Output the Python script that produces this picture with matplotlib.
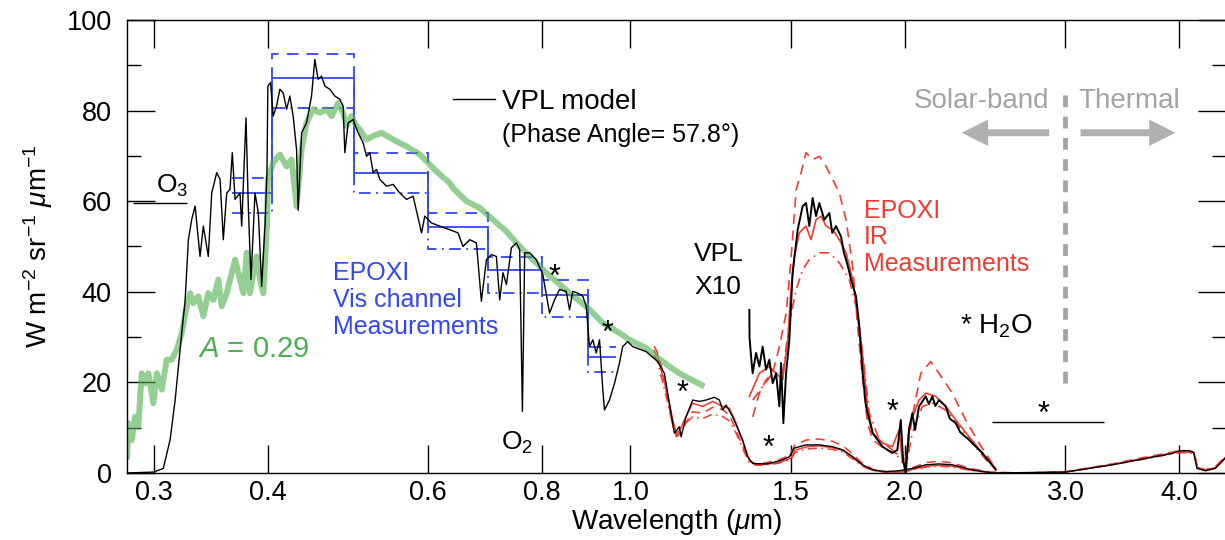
import matplotlib
matplotlib.use('Agg')
import matplotlib.pyplot as plt
from matplotlib.ticker import FixedLocator, FixedFormatter, NullLocator, MultipleLocator
from matplotlib.patches import FancyArrowPatch
from matplotlib.lines import Line2D

plt.rcParams['font.family'] = ['Liberation Sans', 'DejaVu Sans']
plt.rcParams['mathtext.fontset'] = 'custom'
plt.rcParams['mathtext.rm'] = 'Liberation Sans'
plt.rcParams['mathtext.it'] = 'Liberation Sans:italic'
plt.rcParams['mathtext.bf'] = 'Liberation Sans:bold'

# VPL model, original scale
vpl_wl = [0.2805, 0.3000, 0.3074, 0.3127, 0.3167, 0.3221, 0.3248, 0.3275, 0.3303, 0.3331,
          0.3373, 0.3401, 0.3444, 0.3474, 0.3518, 0.3548, 0.3577, 0.3608, 0.3638, 0.3659,
          0.3685, 0.3731, 0.3747, 0.3788, 0.3810, 0.3836, 0.3875, 0.3908, 0.3941, 0.3974,
          0.3994, 0.4003, 0.4030, 0.4057, 0.4092, 0.4126, 0.4161, 0.4197, 0.4232, 0.4267,
          0.4304, 0.4321, 0.4359, 0.4414, 0.4470, 0.4507, 0.4545, 0.4584, 0.4623, 0.4681,
          0.4741, 0.4801, 0.4841, 0.4862, 0.4903, 0.4965, 0.5028, 0.5092, 0.5136, 0.5179,
          0.5222, 0.5267, 0.5311, 0.5402, 0.5493, 0.5586, 0.5682, 0.5777, 0.5901, 0.5950,
          0.6050, 0.6178, 0.6336, 0.6470, 0.6553, 0.6665, 0.6778, 0.6864, 0.6952, 0.7040,
          0.7129, 0.7189, 0.7249, 0.7312, 0.7404, 0.7499, 0.7561, 0.7613, 0.7657, 0.7755,
          0.7884, 0.8016, 0.8153, 0.8256, 0.8361, 0.8504, 0.8575, 0.8647, 0.8757, 0.8868,
          0.8944, 0.9019, 0.9095, 0.9173, 0.9250, 0.9327, 0.9367, 0.9486, 0.9607, 0.9729,
          0.9807, 0.9932, 1.0058, 1.0404, 1.0714, 1.0896, 1.1035, 1.1175, 1.1317, 1.1366,
          1.1510, 1.1704, 1.1903, 1.2106, 1.2363, 1.2520, 1.2624, 1.2733, 1.2947, 1.3278,
          1.3447, 1.3618, 1.4086, 1.4323, 1.4689, 1.4940, 1.5129, 1.5583, 1.6115, 1.6665,
          1.7092, 1.7529, 1.7977, 1.8437, 1.9071, 1.971, 2.038, 2.108, 2.180, 2.255,
          2.372, 2.494, 3.000, 3.375, 3.672, 3.926, 4.000, 4.095, 4.147, 4.182,
          4.272, 4.380, 4.454, 4.500]
vpl_rad = [0.0, 0.2, 1.0, 7.3, 16.0, 31.0, 38.0, 51.5, 56.0, 58.9,
           47.8, 54.5, 47.8, 61.8, 66.3, 64.8, 51.5, 61.8, 62.6, 70.7,
           60.4, 61.8, 54.5, 78.4, 58.9, 42.7, 61.8, 57.4, 41.2, 54.5,
           66.3, 85.4, 86.2, 78.8, 81.0, 84.7, 83.9, 80.3, 83.2, 78.8,
           71.4, 58.0, 75.1, 77.3, 83.2, 91.3, 86.9, 87.6, 85.4, 84.7,
           83.2, 82.5, 81.0, 70.7, 77.3, 78.0, 75.1, 72.9, 69.9, 70.7,
           66.3, 67.0, 64.8, 63.3, 63.7, 61.8, 60.4, 61.1, 53.0, 56.7,
           55.2, 54.5, 53.7, 53.0, 50.0, 51.5, 50.8, 37.9, 47.1, 48.2,
           47.8, 38.2, 44.2, 41.6, 49.7, 50.8, 49.3, 13.6, 48.6, 48.6,
           47.1, 43.8, 35.3, 38.2, 40.5, 40.1, 36.0, 40.1, 39.7, 39.0,
           36.8, 27.9, 29.4, 26.5, 29.4, 18.4, 13.9, 16.1, 19.8, 24.3,
           27.9, 29.0, 27.9, 26.8, 24.6, 22.0, 15.4, 8.8, 10.2, 8.0,
           12.4, 16.1, 15.8, 16.1, 16.7, 16.1, 13.9, 15.0, 12.4, 7.3,
           3.6, 2.1, 2.0, 2.3, 2.9, 3.6, 5.5, 6.2, 6.2, 5.8,
           5.1, 3.6, 1.8, 0.7, 0.3, 0.5, 1.0, 1.8, 2.0, 1.8,
           0.7, 0.0, 0.2, 1.8, 3.2, 4.3, 4.9, 4.9, 4.6, 1.0,
           0.5, 1.0, 2.5, 3.5]

# VPL model x10
vpl10_wl = [1.3505, 1.3510, 1.3563, 1.3618, 1.3735, 1.385, 1.3966, 1.4086, 1.4204, 1.4323,
            1.4447, 1.4567, 1.463, 1.4715, 1.4816, 1.494, 1.5064, 1.5257, 1.545, 1.5583,
            1.5712, 1.5845, 1.5981, 1.6115, 1.632, 1.6527, 1.665, 1.6809, 1.7022, 1.715,
            1.7238, 1.735, 1.7457, 1.7679, 1.7827, 1.7977, 1.8129, 1.8437, 1.8906, 1.9379,
            1.9625, 1.9794, 1.9909, 2.0045, 2.0213, 2.038, 2.0522, 2.073, 2.108, 2.125,
            2.1438, 2.160, 2.180, 2.2178, 2.240, 2.2742, 2.300, 2.352, 2.4322, 2.516]
vpl10_rad = [36.0, 30.0, 25.7, 22.0, 26.5, 23.5, 27.9, 22.8, 25.0, 19.8,
             22.0, 14.7, 24.3, 11.0, 22.0, 29.4, 44.2, 53.7, 58.9, 59.6,
             54.5, 60.7, 56.7, 59.6, 55.9, 57.4, 53.0, 54.5, 52.2, 48.5,
             47.1, 45.0, 42.7, 39.0, 32.3, 22.0, 14.7, 8.8, 5.8, 4.4,
             5.1, 11.7, 2.9, 0.0, 9.5, 13.2, 9.5, 14.7, 16.9, 15.2,
             16.9, 14.8, 16.1, 14.7, 12.0, 11.0, 9.0, 7.3, 4.4, 0.7]

# Lambert albedo A = 0.29
alb_wl = [0.2805, 0.2814, 0.2839, 0.2862, 0.2886, 0.2911, 0.2936, 0.2960, 0.2998, 0.3024,
          0.3062, 0.3101, 0.3140, 0.3180, 0.3221, 0.3261, 0.3289, 0.3316, 0.3358, 0.3401,
          0.3444, 0.3488, 0.3532, 0.3563, 0.3608, 0.3654, 0.3685, 0.3715, 0.3763, 0.3795,
          0.3827, 0.3859, 0.3892, 0.3925, 0.3957, 0.3994, 0.4003, 0.4057, 0.4126, 0.4197,
          0.4250, 0.4304, 0.4359, 0.4414, 0.4488, 0.4565, 0.4643, 0.4702, 0.4781, 0.4841,
          0.4883, 0.4945, 0.5008, 0.5050, 0.5136, 0.5222, 0.5334, 0.5493, 0.5682, 0.5876,
          0.6024, 0.6127, 0.6336, 0.6389, 0.6609, 0.6835, 0.7068, 0.7312, 0.7561, 0.7820,
          0.8085, 0.8292, 0.8575, 0.8944, 0.9327, 0.9729, 0.9975, 1.0404, 1.0670, 1.1035,
          1.1317, 1.2054]
alb_rad = [3.0, 11.0, 7.3, 12.4, 10.2, 22.0, 19.8, 22.0, 15.4, 22.0,
           18.4, 25.0, 25.0, 27.2, 30.9, 36.8, 39.7, 37.5, 39.0, 34.6,
           39.7, 38.2, 42.7, 36.8, 39.7, 44.2, 47.1, 44.2, 39.7, 48.6,
           39.7, 44.2, 47.8, 42.7, 39.7, 54.5, 64.8, 68.5, 70.3, 67.7,
           69.2, 58.9, 71.4, 77.3, 80.3, 79.5, 80.3, 78.8, 81.7, 79.5,
           76.6, 78.8, 76.6, 75.8, 73.6, 74.4, 75.1, 73.6, 72.1, 70.3,
           68.1, 66.6, 64.0, 62.9, 60.0, 58.5, 55.9, 53.3, 50.0, 47.1,
           44.2, 42.3, 39.7, 36.8, 33.1, 30.9, 29.4, 27.6, 25.7, 23.5,
           22.0, 19.1]

# EPOXI Vis channel (7 filters)
vis_edges = [0.366, 0.404, 0.498, 0.600, 0.698, 0.800, 0.899, 0.965]
vis_mid = [61.7, 87.2, 66.3, 54.2, 44.7, 39.4, 25.6]
vis_high = [65.1, 92.6, 70.6, 57.5, 47.7, 42.7, 27.9]
vis_low = [57.5, 80.6, 61.8, 49.5, 39.7, 34.4, 22.4]

# EPOXI IR, original scale
ir_wl = [1.062, 1.071, 1.085, 1.099, 1.113, 1.123, 1.133, 1.150, 1.170, 1.200,
         1.231, 1.262, 1.284, 1.306, 1.334, 1.350, 1.374, 1.410, 1.450, 1.480,
         1.500, 1.515, 1.560, 1.610, 1.665, 1.710, 1.750, 1.800, 1.845, 1.900,
         1.970, 2.000, 2.040, 2.110, 2.180, 2.255, 2.370, 2.490, 2.700, 3.000,
         3.375, 3.670, 3.925, 4.000, 4.095, 4.150, 4.185, 4.270, 4.380, 4.500]
ir_solid = [27.0, 25.7, 21.5, 17.0, 11.7, 8.8, 9.5, 12.4, 15.4, 14.7,
            15.8, 14.7, 14.3, 11.0, 5.8, 2.9, 1.8, 1.9, 2.3, 2.8,
            3.3, 5.0, 5.8, 6.0, 5.6, 5.0, 3.5, 1.6, 0.6, 0.2,
            0.2, 0.4, 0.8, 1.5, 1.7, 1.5, 0.6, 0.1, 0.0, 0.2,
            1.9, 3.3, 4.4, 4.7, 4.6, 4.5, 1.3, 0.6, 1.2, 3.6]
ir_dash = [28.0, 26.5, 22.5, 16.0, 10.5, 8.0, 8.5, 11.0, 13.5, 13.2,
           14.5, 14.0, 12.8, 9.5, 5.0, 2.6, 1.9, 2.3, 2.8, 3.5,
           4.4, 6.2, 7.3, 7.5, 7.0, 6.0, 4.3, 2.0, 0.8, 0.3,
           0.3, 0.6, 1.2, 2.3, 2.6, 2.2, 0.9, 0.2, 0.0, 0.3,
           2.0, 3.5, 4.6, 5.0, 4.9, 4.7, 1.5, 0.7, 1.4, 3.8]
ir_dashdot = [26.0, 24.5, 20.0, 15.5, 10.5, 8.3, 9.0, 11.0, 12.4, 12.0,
              13.0, 12.5, 11.5, 8.8, 4.5, 2.3, 1.7, 1.8, 2.1, 2.6,
              3.0, 4.5, 5.3, 5.5, 5.2, 4.6, 3.2, 1.4, 0.5, 0.2,
              0.2, 0.3, 0.7, 1.3, 1.5, 1.3, 0.5, 0.1, 0.0, 0.2,
              1.8, 3.1, 4.2, 4.5, 4.4, 4.3, 1.2, 0.5, 1.1, 3.4]

# EPOXI IR x10
ir10_solid_wl = [1.3505, 1.385, 1.420, 1.445, 1.469, 1.488, 1.500, 1.513, 1.532, 1.558,
                 1.578, 1.598, 1.619, 1.639, 1.667, 1.695, 1.724, 1.753, 1.775, 1.798,
                 1.820, 1.844, 1.891, 1.938, 1.971, 1.987, 2.005, 2.021, 2.047, 2.073,
                 2.108, 2.162, 2.218, 2.274, 2.352, 2.432, 2.516]
ir10_solid = [16.9, 22.0, 23.5, 22.0, 20.6, 29.4, 40.5, 47.8, 53.0, 54.5,
              51.5, 55.9, 56.7, 54.5, 53.7, 51.5, 48.6, 42.7, 35.3, 25.7,
              14.7, 8.8, 6.6, 5.8, 9.5, 2.9, 0.7, 10.2, 13.2, 16.1,
              17.6, 16.9, 14.7, 11.7, 8.0, 4.4, 1.0]
ir10_dash_wl = [1.362, 1.385, 1.409, 1.432, 1.457, 1.482, 1.500, 1.520, 1.539, 1.558,
                1.585, 1.612, 1.639, 1.667, 1.695, 1.724, 1.753, 1.775, 1.798, 1.820,
                1.844, 1.907, 1.955, 2.005, 2.038, 2.082, 2.135, 2.180, 2.255, 2.332,
                2.412, 2.494]
ir10_dash = [12.4, 17.6, 20.6, 22.0, 27.9, 35.3, 47.1, 62.6, 66.3, 70.7,
             69.2, 69.9, 67.7, 64.8, 61.8, 55.9, 45.6, 32.3, 20.6, 11.0,
             7.3, 5.1, 4.4, 2.9, 12.4, 22.0, 24.6, 22.0, 17.6, 11.7,
             6.6, 2.1]
ir10_dashdot_wl = [1.362, 1.397, 1.432, 1.469, 1.494, 1.520, 1.545, 1.571, 1.612, 1.653,
                   1.695, 1.738, 1.768, 1.798, 1.828, 1.875, 1.938, 2.005, 2.038, 2.090,
                   2.144, 2.218, 2.293, 2.372, 2.474]
ir10_dashdot = [16.1, 19.1, 22.0, 22.0, 33.1, 40.5, 44.9, 47.1, 48.6, 48.6,
                46.4, 42.7, 36.8, 26.5, 13.2, 7.3, 5.1, 1.4, 8.8, 14.7,
                15.4, 13.9, 10.2, 6.6, 2.1]

# H2O bands marked with asterisks (glyph centres)
h2o_wl = [0.8256, 0.9446, 1.141, 1.417, 1.938, 2.841]
h2o_rad = [44.5, 32.3, 19.1, 6.9, 14.7, 14.3]

xticks = [0.3, 0.4, 0.6, 0.8, 1.0, 1.5, 2.0, 3.0, 4.0]
xtick_labels = ['0.3', '0.4', '0.6', '0.8', '1.0', '1.5', '2.0', '3.0', '4.0']

blue = '#3246f5'
red = '#ef3b30'
green = '#4cae4c'
gray = '#a3a3a3'

fig = plt.figure(figsize=(12.25, 5.4), dpi=100)
ax = fig.add_axes([0.1037, 0.1241, 0.8971, 0.8389])

# EPOXI IR
ax.plot(ir_wl, ir_solid, color=red, lw=1.1)
ax.plot(ir_wl, ir_dash, color=red, lw=1.1, ls=(0, (6, 4)))
ax.plot(ir_wl, ir_dashdot, color=red, lw=1.1, ls=(0, (6, 3, 1, 3)))
ax.plot(ir10_solid_wl, ir10_solid, color=red, lw=1.2)
ax.plot(ir10_dash_wl, ir10_dash, color=red, lw=1.2, ls=(0, (6, 4)))
ax.plot(ir10_dashdot_wl, ir10_dashdot, color=red, lw=1.2, ls=(0, (6, 3, 1, 3)))

# albedo model
ax.plot(alb_wl, alb_rad, color=green, lw=4.3, alpha=0.6, solid_capstyle='butt')

# VPL model
ax.plot(vpl_wl, vpl_rad, color='black', lw=1.0)
ax.plot(vpl10_wl, vpl10_rad, color='black', lw=1.4)

# EPOXI Vis
ax.stairs(vis_mid, vis_edges, baseline=None, color=blue, lw=1.3)
ax.stairs(vis_high, vis_edges, baseline=None, color=blue, lw=1.3, ls=(0, (6.5, 4.5)))
ax.stairs(vis_low, vis_edges, baseline=None, color=blue, lw=1.3, ls=(0, (6.5, 3, 1, 3)))

# annotations
for w, r in zip(h2o_wl, h2o_rad):
    ax.annotate('*', (w, r), xytext=(0, -5), textcoords='offset points',
                ha='center', va='center', fontsize=22)

ax.hlines(11.3, 2.494, 3.305, color='black', lw=1.0)
ax.hlines(59.6, 0.2848, 0.3261, color='black', lw=1.0)
ax.text(0.3015, 61.9, 'O$_3$', fontsize=19, ha='left', va='baseline')
ax.text(0.722, 5.1, 'O$_2$', fontsize=19, ha='left', va='baseline')

ax.text(0.3355, 27.4, '$A$ = 0.29', fontsize=21, color=green, ha='left', va='center')

for line, r in zip(['EPOXI', 'Vis channel', 'Measurements'], [44.2, 38.2, 32.3]):
    ax.text(0.4719, r, line, fontsize=18, color=blue, ha='left', va='center')
for line, r in zip(['EPOXI', 'IR', 'Measurements'], [57.9, 52.2, 46.2]):
    ax.text(1.805, r, line, fontsize=18, color=red, ha='left', va='center')
for line, r in zip(['VPL', 'X10'], [48.4, 41.1]):
    ax.text(1.175, r, line, fontsize=19, color='black', ha='left', va='center')

ax.text(2.30, 32.3, '* H$_2$O', fontsize=20, ha='left', va='center')

leg = ax.legend([Line2D([], [], color='black', lw=1.0)], ['VPL model'],
                loc='upper left', bbox_to_anchor=(0.2966, 0.848), frameon=False,
                fontsize=20, handlelength=1.5, handletextpad=0.25,
                borderpad=0, borderaxespad=0)
ax.text(0.7225, 74.7, '(Phase Angle= 57.8°)', fontsize=18, ha='left', va='center')

# solar / thermal divide
ax.vlines(3.0, 19.9, 85, color=gray, lw=3.4, linestyles=(0, (2.5, 2)))
ax.text(2.877, 82.2, 'Solar-band', fontsize=20, color=gray, ha='right', va='center')
ax.text(3.103, 82.2, 'Thermal', fontsize=20, color=gray, ha='left', va='center')
for a, b in [(2.900, 2.293), (3.095, 3.99)]:
    ax.add_patch(FancyArrowPatch((a, 75.1), (b, 75.1), arrowstyle='simple,head_length=1.9,head_width=1.9,tail_width=0.5',
                                 mutation_scale=10, color='#b0b0b0', lw=0))

ax.set_xscale('log')
ax.set_xlim(0.2805, 4.5)
ax.set_ylim(0, 100)
ax.xaxis.set_major_locator(FixedLocator(xticks))
ax.xaxis.set_major_formatter(FixedFormatter(xtick_labels))
ax.xaxis.set_minor_locator(NullLocator())
ax.yaxis.set_major_locator(MultipleLocator(20))
ax.yaxis.set_minor_locator(MultipleLocator(10))
ax.tick_params(which='both', direction='in', top=True, right=True, labelsize=19.5, width=1.0)
ax.tick_params(which='major', length=20)
ax.tick_params(which='minor', length=10)
ax.tick_params(axis='y', pad=11)
ax.tick_params(axis='x', pad=5)
for s in ax.spines.values():
    s.set_linewidth(1.0)

ax.set_xlabel('Wavelength ($\\mu$m)', fontsize=20, labelpad=1)
ax.set_ylabel('W m$^{-2}$ sr$^{-1}$ $\\mu$m$^{-1}$', fontsize=20, labelpad=8)

fig.savefig('out.png', dpi=100)
